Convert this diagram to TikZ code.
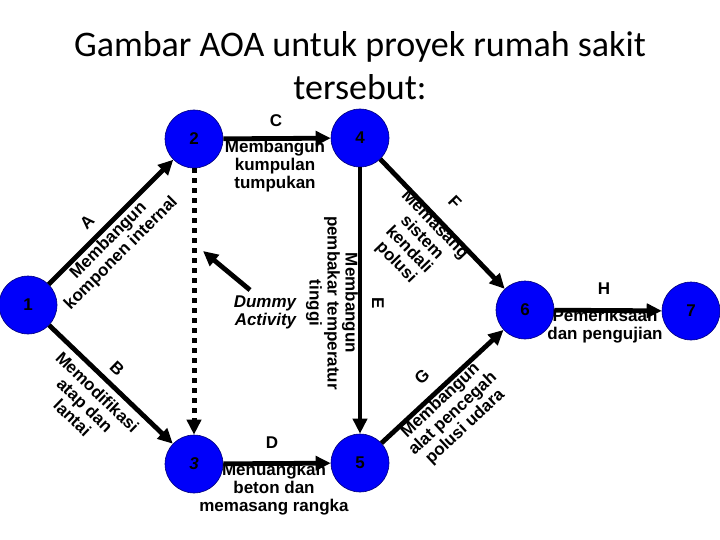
\documentclass[tikz,border=0pt]{standalone}
\usepackage{fontspec}
\usetikzlibrary{arrows.meta}
\newfontfamily\lblfont{Liberation Sans}
\newfontfamily\titlefont{Carlito}
\definecolor{nodeblue}{RGB}{0,0,250}
\definecolor{nodeedge}{RGB}{0,0,120}
\tikzset{
  evt/.style={circle, fill=nodeblue, draw=nodeedge, line width=0.6pt, minimum size=58pt, inner sep=0pt,
              font=\lblfont\bfseries\fontsize{17}{18}\selectfont},
  arr/.style={line width=4.8pt, -{Triangle[length=15pt,width=14pt]}},
  dum/.style={line width=5pt, dash pattern=on 5pt off 5pt, -{Triangle[length=15pt,width=14pt]}},
  lbl/.style={font=\lblfont\bfseries\fontsize{17}{18}\selectfont, align=center, inner sep=0pt},
  lbli/.style={font=\lblfont\bfseries\itshape\fontsize{17}{18}\selectfont, align=right, inner sep=0pt},
  ttl/.style={font=\titlefont\fontsize{36}{43}\selectfont, anchor=base, inner sep=0pt}
}
\begin{document}
\begin{tikzpicture}[x=1pt,y=-1pt]
\useasboundingbox (0,0) rectangle (720,540);
% title
\node[ttl] (t1) at (360,57) {Gambar AOA untuk proyek rumah sakit};
\node[ttl] (t2) at (360,100) {tersebut:};
% events
\node[evt] (n1) at (28,305) {1};
\node[evt] (n2) at (194,139) {2};
\node[evt] (n3) at (194,464) {\itshape 3};
\node[evt] (n4) at (360,138) {4};
\node[evt] (n5) at (360,463) {5};
\node[evt] (n6) at (525,310) {6};
\node[evt] (n7) at (691,311) {7};
% activities
\draw[arr] (n1) -- (n2);
\draw[arr] (n1) -- (n3);
\draw[arr] (n2) -- (n4);
\draw[arr] (n3) -- (n5);
\draw[arr] (n4) -- (n5);
\draw[arr] (n4) -- (n6);
\draw[arr] (n5) -- (n6);
\draw[arr] (n6) -- (n7);
\draw[dum] (n2) -- (n3);
% dummy pointer
\coordinate (dp1) at (250,290);
\coordinate (dp2) at (203,251);
\draw[arr] (dp1) -- (dp2);
\node[lbli] (dtxt) at (265,312) {Dummy\\Activity};
% labels
\node[lbl, rotate=45] (la) at (87,222) {A};
\node[lbl, rotate=45] (ta) at (115,247) {Membangun\\komponen internal};
\node[lbl, rotate=-44] (lb) at (117,369) {B};
\node[lbl, rotate=-44] (tb) at (85,405) {Memodifikasi\\atap dan\\lantai};
\node[lbl] (lc) at (276,121) {C};
\node[lbl] (tc) at (275,166) {Membangun\\kumpulan\\tumpukan};
\node[lbl] (ld) at (272,443) {D};
\node[lbl] (td) at (274,489) {Menuangkan\\beton dan\\memasang rangka};
\node[lbl, rotate=-90] (le) at (378,303) {E};
\node[lbl, rotate=-90] (te) at (332,303) {Membangun\\pembakar temperatur\\tinggi};
\node[lbl, rotate=-46] (lf) at (455,202) {F};
\node[lbl, rotate=-46] (tf) at (415,244) {Memasang\\sistem\\kendali\\polusi};
\node[lbl, rotate=43] (lg) at (422,377) {G};
\node[lbl, rotate=43] (tg) at (453,414) {Membangun\\alat pencegah\\polusi udara};
\node[lbl] (lh) at (604,289) {H};
\node[lbl] (th) at (605,326) {Pemeriksaan\\dan pengujian};
\end{tikzpicture}
\end{document}
